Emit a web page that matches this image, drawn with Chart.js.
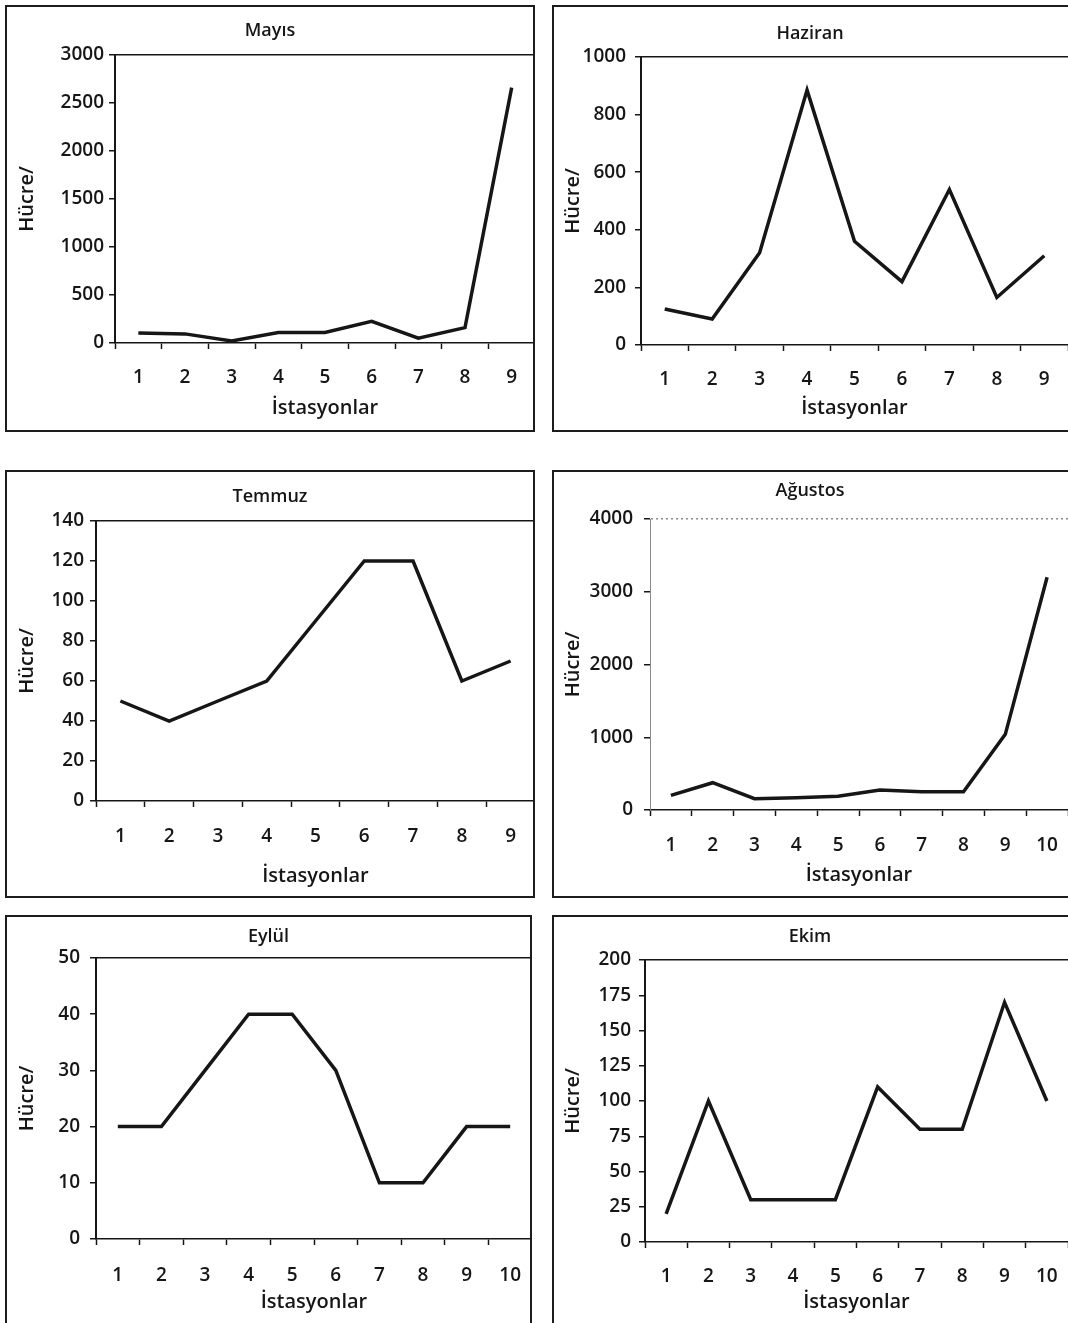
<!DOCTYPE html>
<html lang="tr">
<head>
<meta charset="utf-8">
<title>İstasyonlara göre hücre sayıları</title>
<script src="https://cdn.jsdelivr.net/npm/chart.js@4/dist/chart.umd.min.js"></script>
<style>
  html, body { margin: 0; padding: 0; background: #fff; }
  #page { position: relative; width: 1068px; height: 1323px; overflow: hidden; }
  .panel { position: absolute; }
  .frame { position: absolute; border: 2px solid #1c1c1c; box-sizing: border-box; pointer-events: none; }
</style>
</head>
<body>
<div id="page"></div>
<script>
// aylık örnekleme sonuçları, istasyon başına hücre sayısı
const months = ['Mayıs', 'Haziran', 'Temmuz', 'Ağustos', 'Eylül', 'Ekim'];
const stations9 = ['1', '2', '3', '4', '5', '6', '7', '8', '9'];
const stations10 = ['1', '2', '3', '4', '5', '6', '7', '8', '9', '10'];

const mayis   = [105, 95, 20, 110, 110, 225, 50, 160, 2660];
const haziran = [125, 90, 320, 885, 360, 220, 540, 165, 310];
const temmuz  = [50, 40, 50, 60, 90, 120, 120, 60, 70];
const agustos = [200, 375, 155, 170, 190, 275, 250, 250, 1040, 3200];
const eylul   = [20, 20, 30, 40, 40, 30, 10, 10, 20, 20];
const ekim    = [20, 100, 30, 30, 30, 110, 80, 80, 170, 100];

const yMax  = [3000, 1000, 140, 4000, 50, 200];
const yStep = [500, 200, 20, 1000, 10, 25];

const seriesList = [mayis, haziran, temmuz, agustos, eylul, ekim];
const stationList = [stations9, stations9, stations9, stations10, stations10, stations10];

// panel kutuları ve eksen ölçüleri (piksel)
const panels = [
  { x: 5,   y: 5,   w: 530, h: 427, yw: 110, top: 50, titleY: 26, axis: 338, tickY: 373, xTitleY: 403, yTitleX: 22, gap: 11, right: true,  bottom: true },
  { x: 552, y: 5,   w: 516, h: 427, yw: 89,  top: 52, titleY: 29, axis: 340, tickY: 375, xTitleY: 403, yTitleX: 21, gap: 15, right: false, bottom: true },
  { x: 5,   y: 470, w: 530, h: 428, yw: 91,  top: 51, titleY: 27, axis: 331, tickY: 367, xTitleY: 406, yTitleX: 22, gap: 12, right: true,  bottom: true },
  { x: 552, y: 470, w: 516, h: 428, yw: 98,  top: 49, titleY: 21, axis: 340, tickY: 376, xTitleY: 405, yTitleX: 21, gap: 17, right: false, bottom: true, dotted: true },
  { x: 5,   y: 915, w: 527, h: 408, yw: 91,  top: 43, titleY: 22, axis: 324, tickY: 361, xTitleY: 387, yTitleX: 22, gap: 16, right: true,  bottom: false },
  { x: 552, y: 915, w: 516, h: 408, yw: 93,  top: 45, titleY: 22, axis: 327, tickY: 362, xTitleY: 387, yTitleX: 21, gap: 14, right: false, bottom: false }
];

const ink = '#161616';
const fontFamily = '"Open Sans", "DejaVu Sans", sans-serif';
const tickFont = { family: fontFamily, size: 19, weight: '600', lineHeight: 1.2 };
const titleFont = { family: fontFamily, size: 18, weight: '600', lineHeight: 1.2 };
const axisTitleFont = { family: fontFamily, size: 20, weight: '600', lineHeight: 1.2 };

const page = document.getElementById('page');

panels.forEach((p, i) => {
  const holder = document.createElement('div');
  holder.className = 'panel';
  holder.style.left = p.x + 'px';
  holder.style.top = p.y + 'px';
  holder.style.width = p.w + 'px';
  holder.style.height = p.h + 'px';
  const canvas = document.createElement('canvas');
  canvas.width = p.w;
  canvas.height = p.h;
  canvas.style.width = p.w + 'px';
  canvas.style.height = p.h + 'px';
  holder.appendChild(canvas);
  page.appendChild(holder);

  const frame = document.createElement('div');
  frame.className = 'frame';
  frame.style.left = p.x + 'px';
  frame.style.top = p.y + 'px';
  frame.style.width = (p.right ? p.w : p.w + 10) + 'px';
  frame.style.height = (p.bottom ? p.h : p.h + 10) + 'px';
  page.appendChild(frame);

  const max = yMax[i];
  const titleLH = titleFont.size * titleFont.lineHeight;
  const tickLH = tickFont.size * tickFont.lineHeight;
  const axisLH = axisTitleFont.size * axisTitleFont.lineHeight;
  const xTickLen = 6;
  const yTickLen = 6;
  const frameColor = p.dotted ? '#8a8a8a' : ink;

  new Chart(canvas, {
    type: 'line',
    data: {
      labels: stationList[i],
      datasets: [{
        data: seriesList[i],
        borderColor: ink,
        borderWidth: 3.5,
        pointRadius: 0,
        tension: 0,
        fill: false
      }]
    },
    options: {
      responsive: false,
      devicePixelRatio: 1,
      animation: false,
      layout: { padding: 0 },
      plugins: {
        legend: { display: false },
        tooltip: { enabled: false },
        title: {
          display: true,
          text: months[i],
          color: ink,
          font: titleFont,
          padding: { top: p.titleY - titleLH / 2, bottom: p.top - p.titleY - titleLH / 2 }
        }
      },
      scales: {
        x: {
          type: 'category',
          offset: true,
          grid: {
            offset: true,
            drawOnChartArea: false,
            drawTicks: true,
            tickLength: xTickLen,
            tickColor: ink,
            tickWidth: 1.5
          },
          border: { display: true, color: ink, width: 1.5 },
          ticks: {
            color: ink,
            font: tickFont,
            maxRotation: 0,
            autoSkip: false,
            padding: p.tickY - p.axis - xTickLen - tickLH / 2
          },
          title: {
            display: true,
            text: 'İstasyonlar',
            color: ink,
            font: axisTitleFont,
            padding: { top: 0, bottom: p.h - p.xTitleY - axisLH / 2 }
          },
          afterFit: s => {
            s.height = p.h - p.axis;
            // tick padding would otherwise widen the side margins
            s.paddingLeft = 0;
            s.paddingRight = 0;
          }
        },
        y: {
          min: 0,
          max: max,
          ticks: {
            stepSize: yStep[i],
            color: ink,
            font: tickFont,
            padding: p.gap - yTickLen,
            callback: v => String(v)
          },
          grid: {
            drawTicks: true,
            tickLength: yTickLen,
            tickColor: ink,
            tickWidth: 1.5,
            lineWidth: 1.5,
            color: c => (c.tick && c.tick.value === max) ? frameColor : 'transparent'
          },
          border: p.dotted
            ? { display: true, color: '#8a8a8a', width: 1, dash: [2, 3] }
            : { display: true, color: ink, width: 2 },
          title: {
            display: true,
            text: 'Hücre/',
            color: ink,
            font: axisTitleFont,
            padding: { top: p.yTitleX - axisLH / 2, bottom: 0 }
          },
          afterFit: s => { s.width = p.yw; }
        }
      }
    }
  });
});
</script>
</body>
</html>
